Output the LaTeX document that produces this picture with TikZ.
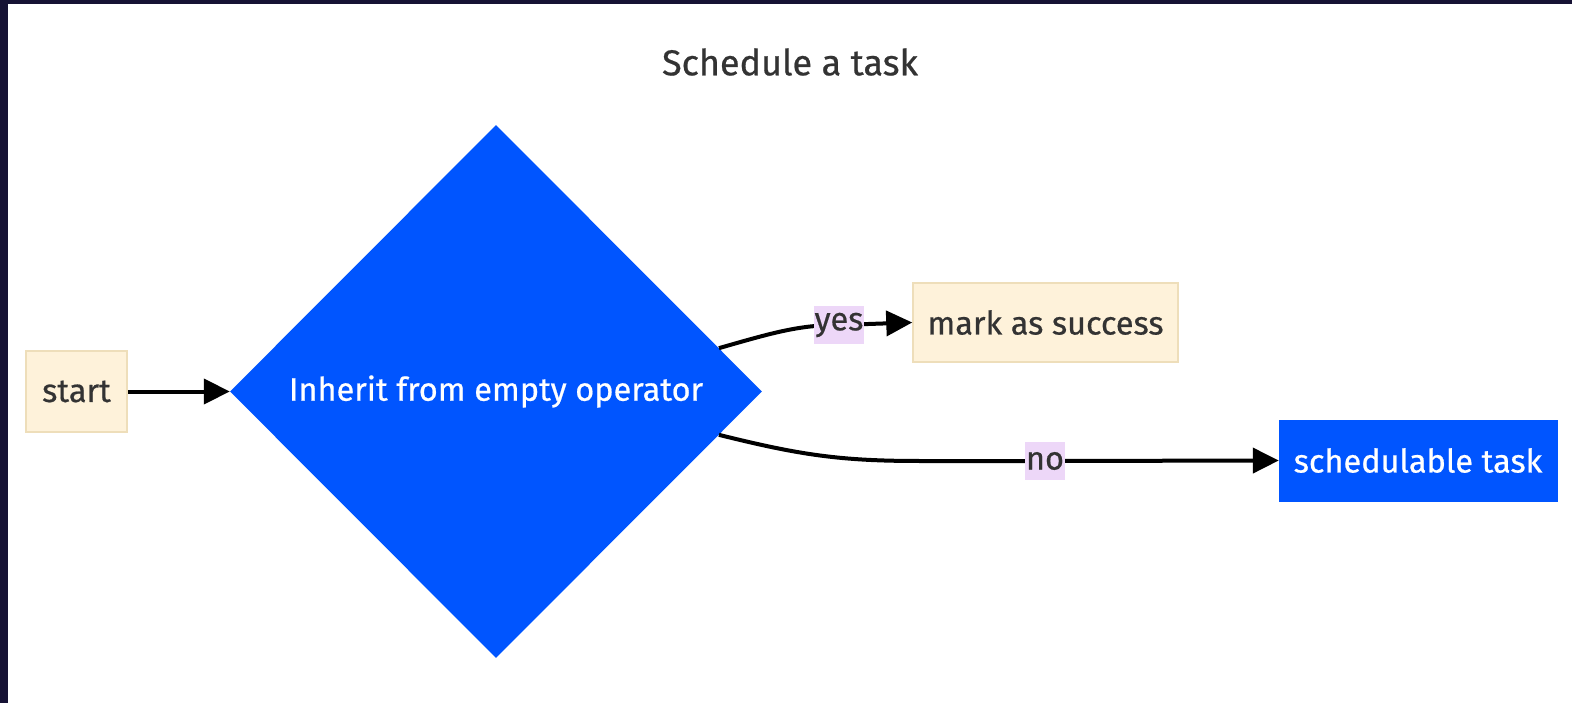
\documentclass[tikz,border=0pt]{standalone}
\usepackage{fontspec}
\setmainfont{Fira Sans}[FakeBold=0.6]
\usepackage{tikz}
\usetikzlibrary{shapes.geometric}
\usetikzlibrary{arrows.meta}

\definecolor{frame}{RGB}{22,18,52}
\definecolor{ink}{RGB}{51,51,51}
\definecolor{opblue}{RGB}{0,85,255}
\definecolor{cream}{RGB}{254,242,218}
\definecolor{creamline}{RGB}{238,222,186}
\definecolor{lblpink}{RGB}{237,215,248}

\begin{document}
\begin{tikzpicture}[x=1pt, y=-1pt,
    box/.style={draw=creamline, line width=1.5pt, fill=cream, text=ink, inner sep=0pt,
      font=\fontsize{32.5}{38}\selectfont},
    bluebox/.style={draw=opblue, fill=opblue, text=white, inner sep=0pt,
      font=\fontsize{32.5}{38}\selectfont},
    lbl/.style={fill=lblpink, text=ink, inner xsep=1pt, inner ysep=0pt, minimum height=38pt,
      font=\fontsize{32.5}{38}\selectfont},
    flow/.style={draw=black, line width=4pt, -{Triangle[length=26pt, width=25pt]}}]
  % page and dark frame
  \useasboundingbox (0,0) rectangle (1572,703);
  \fill[white] (0,0) rectangle (1572,703);
  \fill[frame] (0,0) rectangle (1572,4);
  \fill[frame] (0,0) rectangle (8,703);

  \node[text=ink, font=\fontsize{36}{42}\selectfont] (title) at (790,62) {Schedule a task};

  \node[box, minimum width=101pt, minimum height=81pt] (start) at (76.5,391.5) {start};
  \node[diamond, fill=opblue, text=white, inner sep=0pt, minimum width=532pt, minimum height=533pt,
    font=\fontsize{32.5}{38}\selectfont] (dec) at (496,391.5) {Inherit from empty operator};
  \node[box, minimum width=265pt, minimum height=79pt] (succ) at (1045.5,322.5) {mark as success};
  \node[bluebox, minimum width=278pt, minimum height=81pt] (task) at (1418,460.5) {schedulable task};

  \draw[flow] (start) -- (dec.west);
  \draw[flow] (dec.11.5) .. controls (775,332) and (800,325) .. (839,325)
    node[lbl] (yes) {yes} -- (succ.west);
  \draw[flow] (dec.-11.5) .. controls (800,455) and (840,461) .. (920,461)
    -- (1045,461) node[lbl] (no) {no} -- (task.west);
\end{tikzpicture}
\end{document}
